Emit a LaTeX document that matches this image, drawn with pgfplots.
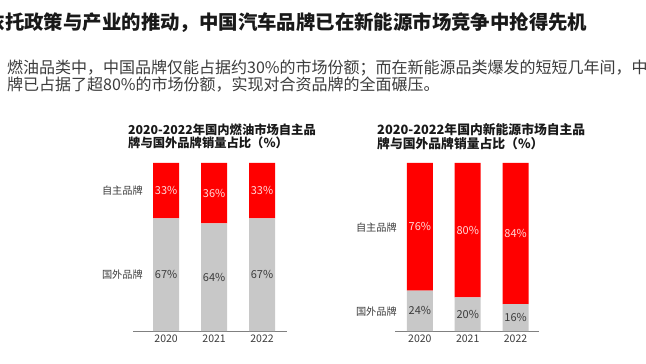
\documentclass[border=0pt]{standalone}
\usepackage{fontspec}
\setmainfont{Noto Sans CJK SC}
\usepackage{pgfplots}
\pgfplotsset{compat=1.18}
\definecolor{barred}{RGB}{255,0,0}
\definecolor{bargray}{RGB}{200,200,200}
\definecolor{txt}{RGB}{60,60,60}
\definecolor{axgray}{RGB}{128,128,128}
\pgfplotsset{
  sharebar/.style={
    scale only axis,
    height=168bp,
    ymin=0, ymax=100,
    ybar stacked,
    bar width=26bp,
    axis x line*=bottom,
    axis y line*=left,
    axis line style={-},
    x axis line style={draw=axgray, line width=0.8bp},
    y axis line style={draw=none},
    major tick length=0pt,
    xtick={0,1,2},
    xticklabels={2020,2021,2022},
    xticklabel style={font=\fontsize{10.5bp}{12bp}\selectfont, text=txt, inner sep=0pt, anchor=north, yshift=-3.5bp},
    yticklabel style={font=\fontsize{10.2bp}{12bp}\selectfont, text=txt, inner sep=0pt, anchor=east},
    /pgf/number format/assume math mode=true,
    visualization depends on={rawy \as \rawy},
    nodes near coords={\pgfmathprintnumber{\rawy}\%},
    every node near coord/.append style={anchor=center, inner sep=0pt, font=\fontsize{11bp}{12bp}\selectfont},
  }
}
\begin{document}
\begin{tikzpicture}[x=1bp,y=1bp]
\useasboundingbox (0,0) rectangle (646,363);
\clip (0,0) rectangle (646,363);
\fill[white] (0,0) rectangle (646,363);
\node[anchor=west, inner sep=0pt, text=black!90, font=\fontsize{19.4bp}{22bp}\selectfont\bfseries] at (-14.4,340) {依托政策与产业的推动，中国汽车品牌已在新能源市场竞争中抢得先机};
\node[anchor=west, inner sep=0pt, text=txt, font=\fontsize{16bp}{18bp}\selectfont] at (7,295) {燃油品类中，中国品牌仅能占据约30\%的市场份额；而在新能源品类爆发的短短几年间，中国品};
\node[anchor=west, inner sep=0pt, text=txt, font=\fontsize{16bp}{18bp}\selectfont] at (7,278) {牌已占据了超80\%的市场份额，实现对合资品牌的全面碾压。};
\node[anchor=west, align=left, inner sep=0pt, text=black!90, font=\fontsize{12.3bp}{13.5bp}\selectfont\bfseries] at (128,226.5) {2020-2022年国内燃油市场自主品\\牌与国外品牌销量占比（\%）};
\node[anchor=west, align=left, inner sep=0pt, text=black!90, font=\fontsize{12.8bp}{13.5bp}\selectfont\bfseries] at (377,226.5) {2020-2022年国内新能源市场自主品\\牌与国外品牌销量占比（\%）};
\begin{axis}[sharebar, at={(133bp,32bp)}, anchor=south west, width=154bp, xmin=-0.69, xmax=2.52,
  ytick={33.3,83.3}, yticklabels={国外品牌,自主品牌}, yticklabel style={xshift=10bp}]
\addplot[fill=bargray, draw=none, every node near coord/.append style={text=txt}] coordinates {(0,67) (1,64) (2,67)};
\addplot[fill=barred, draw=none, every node near coord/.append style={text=white!85!red}] coordinates {(0,33) (1,36) (2,33)};
\end{axis}
\begin{axis}[sharebar, at={(395bp,32bp)}, anchor=south west, width=144bp, xmin=-0.52, xmax=2.49,
  ytick={11.3,61.3}, yticklabels={国外品牌,自主品牌}, yticklabel style={xshift=2bp}]
\addplot[fill=bargray, draw=none, every node near coord/.append style={text=txt}] coordinates {(0,24) (1,20) (2,16)};
\addplot[fill=barred, draw=none, every node near coord/.append style={text=white!85!red}] coordinates {(0,76) (1,80) (2,84)};
\end{axis}
\end{tikzpicture}
\end{document}
